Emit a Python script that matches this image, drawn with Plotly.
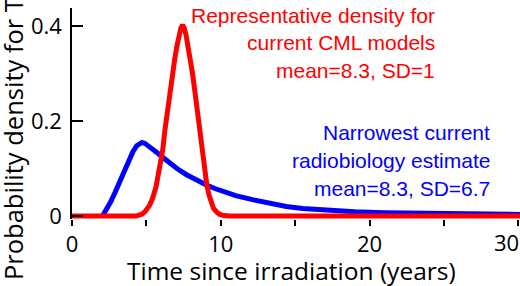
import plotly.graph_objects as go

# Red curve: representative density for current CML models
red_x = [0, 4.3, 4.7, 4.9, 5.2, 5.4, 5.65, 5.9, 6.1, 6.24, 6.4, 6.58, 6.75, 6.91, 7.05, 7.2, 7.32, 7.43,
         7.54, 7.66, 7.8, 7.92, 8.1, 8.26, 8.42, 8.59, 8.75, 8.9, 9.05, 9.2, 9.35, 9.5, 9.7, 9.9, 10.2, 10.6, 31]
red_y = [0, 0, 0.004, 0.009, 0.022, 0.036, 0.062, 0.10, 0.14, 0.18, 0.22, 0.262, 0.30, 0.332, 0.358, 0.382, 0.396, 0.402,
         0.396, 0.382, 0.358, 0.332, 0.30, 0.262, 0.22, 0.18, 0.14, 0.10, 0.068, 0.045, 0.028, 0.017, 0.009, 0.004, 0.001, 0, 0]

# Blue curve: narrowest current radiobiology estimate
blue_x = [2.05, 2.3, 2.6, 2.9, 3.2, 3.5, 3.8, 4.1, 4.35, 4.55, 4.7, 4.9, 5.1, 5.4, 5.7, 6.0, 6.5, 7.1, 7.7, 8.3,
          9.0, 9.6, 10.2, 11.0, 12.2, 13.3, 14.4, 15.5, 16.6, 18.0, 19.0, 21.0, 23.0, 25.5, 28.0, 31]
blue_y = [0, 0.012, 0.030, 0.050, 0.072, 0.094, 0.116, 0.136, 0.148, 0.154, 0.155, 0.153, 0.149, 0.143, 0.134, 0.126, 0.113, 0.099, 0.087, 0.076,
          0.066, 0.058, 0.051, 0.043, 0.034, 0.026, 0.020, 0.016, 0.013, 0.010, 0.009, 0.007, 0.006, 0.005, 0.004, 0.003]

x_ticks = [0, 5, 10, 15, 20, 25, 30]
x_tick_labels = ["0", "", "10", "", "20", "", "30"]
y_ticks = [0, 0.2, 0.4]
y_tick_labels = ["0", "0.2", "0.4"]

red_text = ["Representative density for", "current CML models", "mean=8.3, SD=1"]
blue_text = ["Narrowest current", "radiobiology estimate", "mean=8.3, SD=6.7"]
x_title = "Time since irradiation (years)"
y_title = "Probability density for T"

RED = "#ff0000"
BLUE = "#0000ff"
AXFONT = "'Open Sans', Lato, sans-serif"
ANFONT = "'Liberation Sans', Arial, sans-serif"

L, R, T, B = 72, 0, 8, 67
W, H = 520, 286
pw, ph = W - L - R, H - T - B


def px2paper(px, py):
    return (px - L) / pw, (H - B - py) / ph


fig = go.Figure()
fig.add_trace(go.Scatter(x=blue_x, y=blue_y, mode="lines",
                         line=dict(color=BLUE, width=5), hoverinfo="skip"))
fig.add_trace(go.Scatter(x=red_x, y=red_y, mode="lines",
                         line=dict(color=RED, width=5), hoverinfo="skip"))

annotations = []
for i, t in enumerate(red_text):
    ax, ay = px2paper(437, 15 + 27.5 * i)
    annotations.append(dict(text=t, x=ax, y=ay, xref="paper", yref="paper",
                            xanchor="right", yanchor="middle", showarrow=False,
                            font=dict(family=ANFONT, size=21, color=RED)))
for i, t in enumerate(blue_text):
    ax, ay = px2paper(492, 132 + 28 * i)
    annotations.append(dict(text=t, x=ax, y=ay, xref="paper", yref="paper",
                            xanchor="right", yanchor="middle", showarrow=False,
                            font=dict(family=ANFONT, size=21, color=BLUE)))
ax, ay = px2paper(291, 270)
annotations.append(dict(text=x_title, x=ax, y=ay, xref="paper", yref="paper",
                        xanchor="center", yanchor="middle", showarrow=False,
                        font=dict(family=AXFONT, size=24.5, color="black")))
ax, ay = px2paper(13, 139)
annotations.append(dict(text=y_title, x=ax, y=ay, xref="paper", yref="paper",
                        xanchor="center", yanchor="middle", showarrow=False, textangle=-90,
                        font=dict(family=AXFONT, size=25.5, color="black")))
# last x tick label, nudged left so that it stays mostly inside the page as in the reference
ax, ay = px2paper(506, 242)
annotations.append(dict(text=x_tick_labels[-1], x=ax, y=ay, xref="paper", yref="paper",
                        xanchor="center", yanchor="middle", showarrow=False,
                        font=dict(family=AXFONT, size=22, color="black")))
shown_x_labels = x_tick_labels[:-1] + [""]

ymax = 0.438
ymin = ymax - ph / 475.0

fig.update_layout(
    width=W, height=H,
    margin=dict(l=L, r=R, t=T, b=B, pad=0),
    paper_bgcolor="white", plot_bgcolor="white",
    showlegend=False,
    annotations=annotations,
    xaxis=dict(range=[0, pw / 14.88], showgrid=False, zeroline=False, showline=False,
               automargin=False,
               ticks="outside", ticklen=6, tickwidth=1.5, tickcolor="black",
               tickvals=x_ticks, ticktext=shown_x_labels,
               tickfont=dict(family=AXFONT, size=22, color="black")),
    yaxis=dict(range=[ymin, ymax], showgrid=False, zeroline=False, showline=True,
               automargin=False,
               linecolor="black", linewidth=1.5,
               ticks="inside", ticklen=11, tickwidth=1.5, tickcolor="black",
               tickvals=y_ticks, ticktext=y_tick_labels, ticklabelstandoff=4,
               tickfont=dict(family=AXFONT, size=22, color="black")),
)

fig.write_html("out.html", config={"displayModeBar": False},
               post_script="document.body.style.margin='0';")
